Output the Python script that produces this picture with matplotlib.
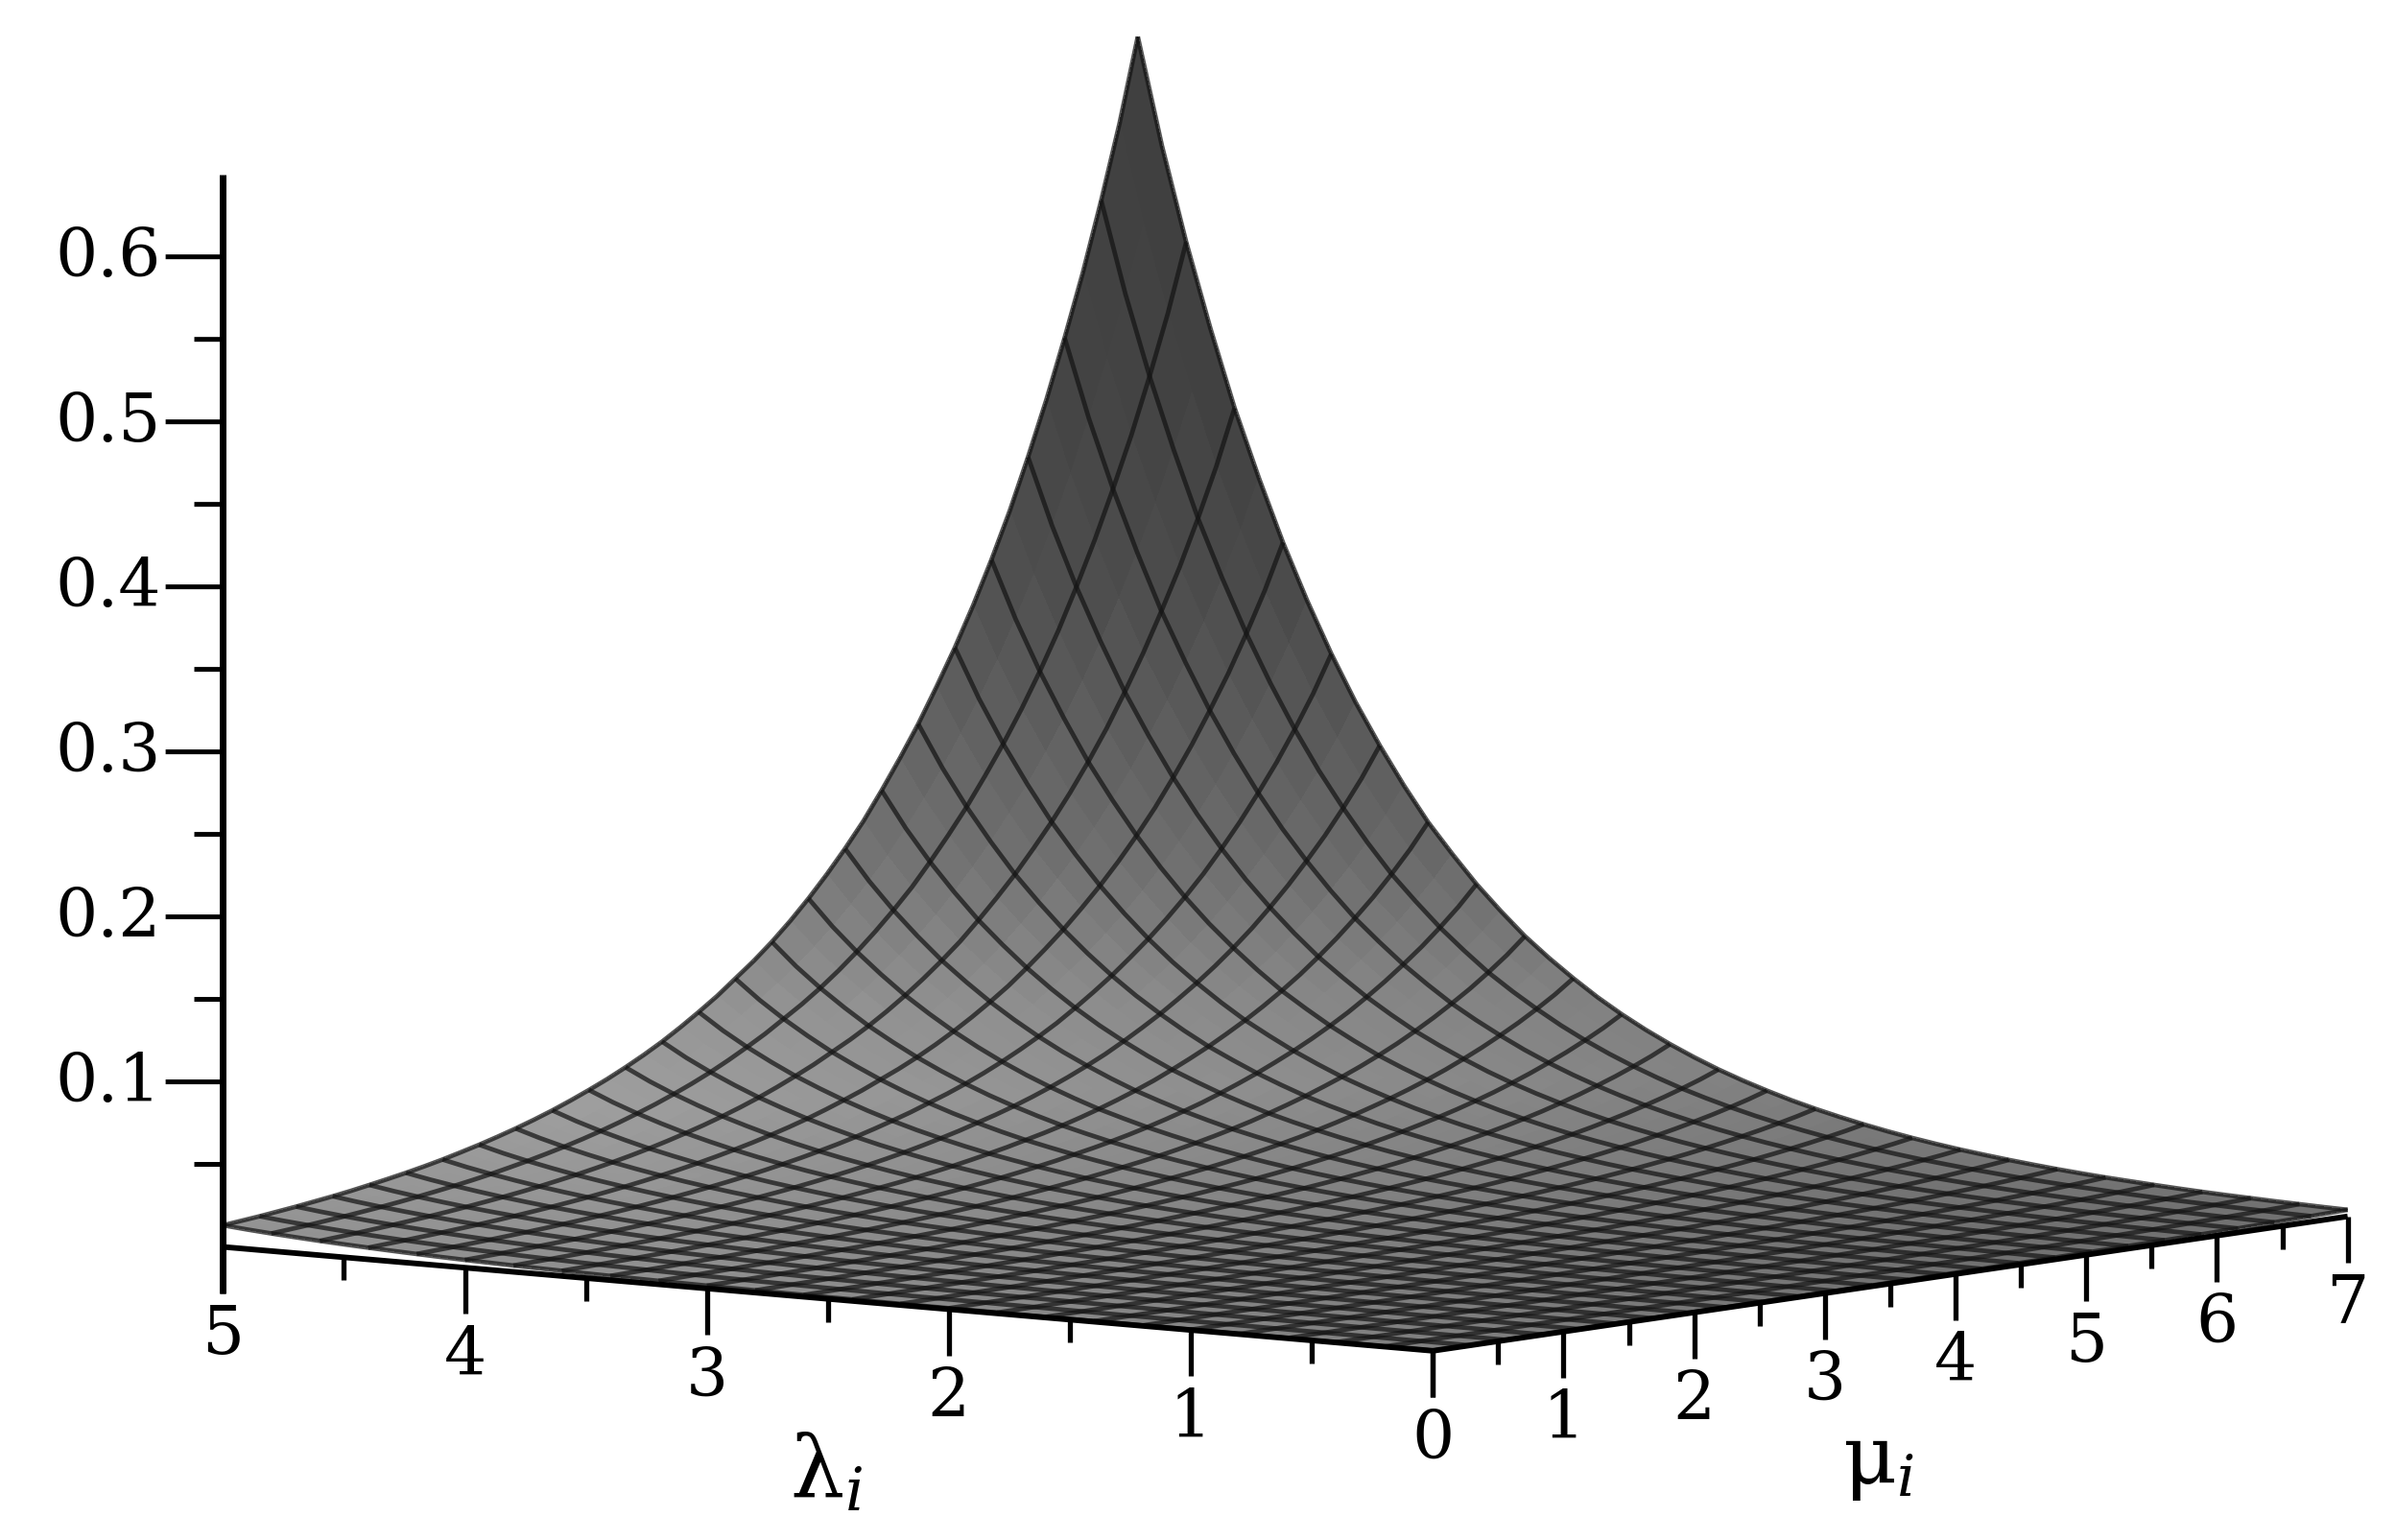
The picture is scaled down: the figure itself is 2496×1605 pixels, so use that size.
import numpy as np
import matplotlib
matplotlib.use("Agg")
import matplotlib.pyplot as plt
from mpl_toolkits.mplot3d import proj3d

# ---- values ----
lam_ticks = [0, 1, 2, 3, 4, 5]
mu_ticks = [0, 1, 2, 3, 4, 5, 6, 7]
z_ticks = [0.1, 0.2, 0.3, 0.4, 0.5, 0.6]
z_labels = ["0.1", "0.2", "0.3", "0.4", "0.5", "0.6"]
z_minor = [0.05, 0.15, 0.25, 0.35, 0.45, 0.55]
z_top = 0.650
z_peak = 0.652
lam_minor = [0.5, 1.5, 2.5, 3.5, 4.5]
mu_minor = [0.5, 1.5, 2.5, 3.5, 4.5, 5.5, 6.5]

# height along the far edge lambda = 5, from mu = 0 to 7 (every second value is a mesh line)
edge_lam5 = [.0131, .0142, .0153, .0166, .0179, .0194, .0209, .0226, .0245, .0265,
             .0286, .0309, .0334, .0362, .0391, .0423, .0457, .0494, .0534, .0578,
             .0625, .0675, .0730, .0789, .0853, .0924, .100, .108, .117, .126,
             .136, .147, .159, .172, .186, .201, .218, .236, .255, .276,
             .298, .322, .348, .376, .407, .440, .476, .514, .556, .601, .652]
# height along the far edge mu = 7, from lambda = 0 to 5 (every second value is a mesh line)
edge_mu7 = [.0040, .0044, .0049, .0054, .0060, .0066, .0073, .0081, .0090, .0100,
            .0110, .0122, .0135, .0150, .0166, .0184, .0203, .0225, .0249, .0276,
            .0306, .0339, .0375, .0415, .0460, .0509, .0563, .0624, .0691, .0765,
            .0847, .0938, .104, .115, .127, .141, .156, .173, .191, .212,
            .235, .260, .288, .319, .353, .391, .432, .479, .530, .587, .652]
# grey of the surface against height
shade_z = [0.0, 0.02, 0.05, 0.09, 0.16, 0.24, 0.30, 0.40, 0.65]
shade_g = [0.50, 0.53, 0.56, 0.54, 0.43, 0.35, 0.30, 0.26, 0.245]

W, H = 2496, 1606
SC = W / 1568
plt.rcParams["font.family"] = ["DejaVu Serif"]
plt.rcParams["mathtext.fontset"] = "dejavuserif"

fig = plt.figure(figsize=(W / 100, H / 100), dpi=100, facecolor="white")
ax = fig.add_axes([0, -(W / H - 1) / 2, 1, W / H], projection="3d", proj_type="ortho",
                  computed_zorder=False)
ELEV, AZIM = 6.45, -142.6
ax.view_init(elev=ELEV, azim=AZIM)
ax.set_xlim(0, 7); ax.set_ylim(0, 5); ax.set_zlim(0, 0.7)
aspect = np.array([986.0, 997.0, 761.0])
ax.set_box_aspect(aspect, zoom=1.0)
ax.set_axis_off()
ax.patch.set_alpha(0)


def to_px(m, l, z):
    x2, y2, _ = proj3d.proj_transform(m, l, z, ax.get_proj())
    return ax.transData.transform((x2, y2))


# place the box so its corners land where the reference has them
fig.canvas.draw()
p_l = to_px(0, 5, 0); p_m = to_px(7, 0, 0)
want_l = np.array([146 * SC, H - 817 * SC]); want_m = np.array([1537 * SC, H - 797 * SC])
ax.set_box_aspect(aspect, zoom=np.linalg.norm(want_m - want_l) / np.linalg.norm(p_m - p_l))
fig.canvas.draw()
shift = want_l - to_px(0, 5, 0)
pos = ax.get_position(original=True)
ax.set_position([pos.x0 + shift[0] / W, pos.y0 + shift[1] / H, pos.width, pos.height])
fig.canvas.draw()

# surface
n = len(edge_lam5)
mu = np.linspace(0, 7, n)
lam = np.linspace(0, 5, n)
MU, LAM = np.meshgrid(mu, lam)
Z = np.outer(edge_mu7, edge_lam5) / z_peak
gray = np.interp(Z, shade_z, shade_g) - 0.10 * np.clip(MU / 7 - LAM / 5, -0.6, 0.6)
gray = np.clip(gray, 0.2, 0.62)
fc = np.dstack([gray, gray, gray, np.ones_like(gray)])
ax.plot_surface(MU, LAM, Z, facecolors=fc, rstride=1, cstride=1, shade=False,
                linewidth=0, antialiased=False, zorder=1)
ax.plot_wireframe(MU, LAM, Z, rstride=2, cstride=2, color=(0.08, 0.08, 0.08, 0.72),
                  linewidth=3.4, zorder=2)

# axes
AX = dict(color="black", solid_capstyle="butt", zorder=3, clip_on=False)
ax.plot([0, 0], [0, 5], [0, 0], lw=4.2, **AX)
ax.plot([0, 7], [0, 0], [0, 0], lw=4.2, **AX)
ax.plot([0, 0], [5, 5], [-0.028, z_top], lw=5.0, **AX)


def label(m, l, z, s, ha="center"):
    px = to_px(m, l, z)
    fig.text(px[0] / W, px[1] / H, s, ha=ha, va="center", fontsize=50)


MAJ, MIN, LAB = -0.028, -0.014, -0.053
for v in lam_ticks:
    ax.plot([0, 0], [v, v], [0, MAJ], lw=3.8, **AX)
    label(0, v, LAB, str(v))
for v in lam_minor:
    ax.plot([0, 0], [v, v], [0, MIN], lw=3.8, **AX)
for v in mu_ticks:
    ax.plot([v, v], [0, 0], [0, MAJ], lw=3.8, **AX)
    if v:
        label(v, 0, LAB, str(v))
for v in mu_minor:
    ax.plot([v, v], [0, 0], [0, MIN], lw=3.8, **AX)

# tick marks on the height axis run straight to the left on the screen
az = np.radians(AZIM)
left = np.array([np.sin(az) * 7, -np.cos(az) * 5])
kmaj = 60 / (np.linalg.norm(to_px(7, 5, 0) - to_px(0, 5, 0)) / np.cos(np.radians(52.6)))
for v, t in zip(z_ticks, z_labels):
    ax.plot([0, left[0] * kmaj], [5, 5 + left[1] * kmaj], [v, v], lw=3.6, **AX)
    label(left[0] * kmaj * 1.08, 5 + left[1] * kmaj * 1.08, v, t, ha="right")
for v in z_minor:
    ax.plot([0, left[0] * kmaj / 2], [5, 5 + left[1] * kmaj / 2], [v, v], lw=3.6, **AX)

fig.text(541 / 1568, 1 - 965 / 1009, r"$\mathrm{\lambda}_{i}$", fontsize=64, ha="center", va="center")
fig.text(1230 / 1568, 1 - 958 / 1009, r"$\mathrm{\mu}_{i}$", fontsize=62, ha="center", va="center")

fig.savefig("out.png", dpi=100, facecolor="white")
